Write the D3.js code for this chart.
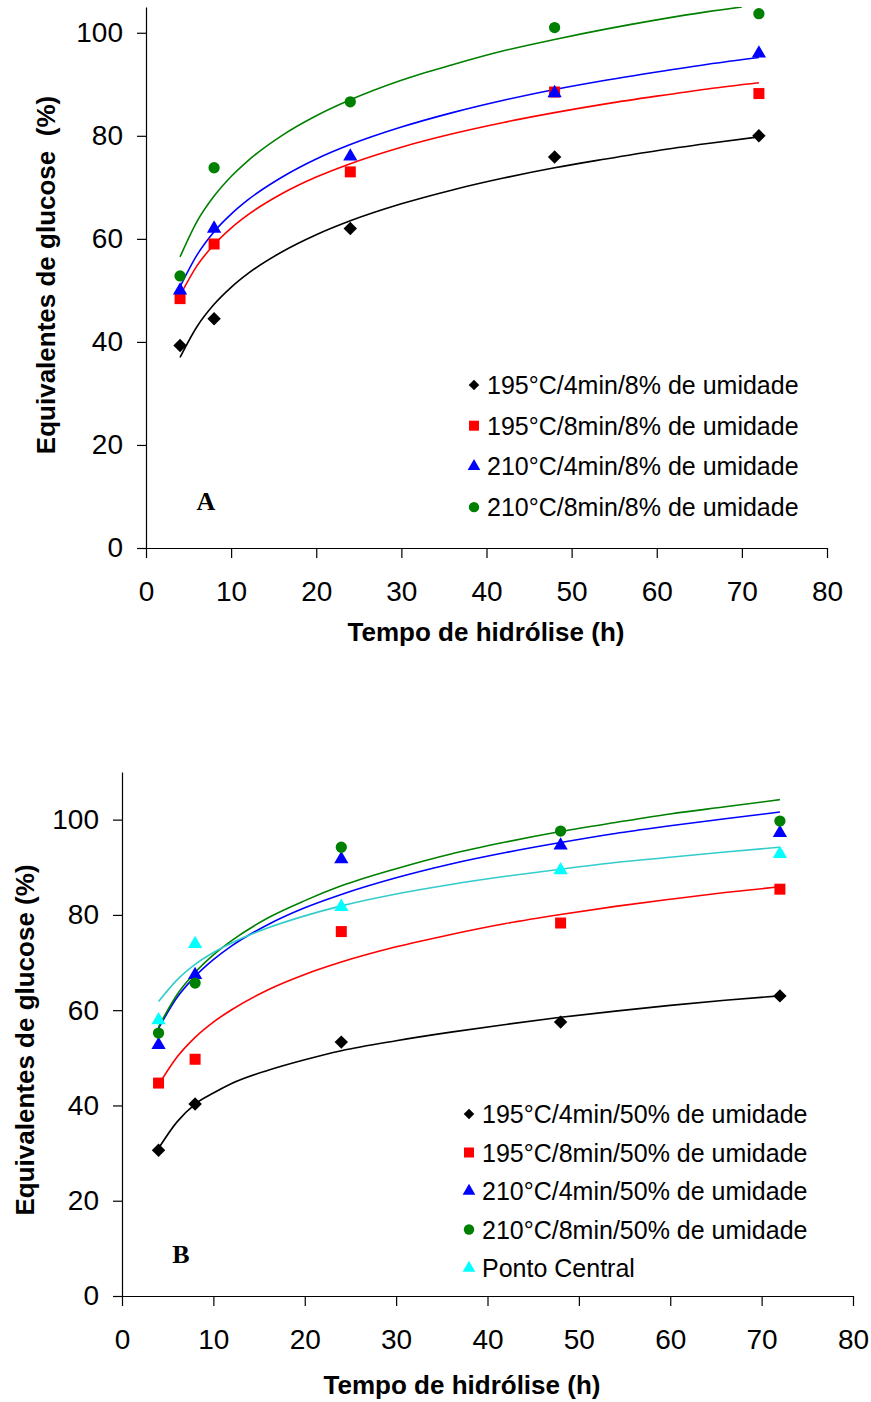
<!DOCTYPE html>
<html>
<head>
<meta charset="utf-8">
<script src="https://cdn.jsdelivr.net/npm/d3@7"></script>
<style>
  html, body { margin: 0; padding: 0; background: #fff; }
  svg { display: block; }
  text { font-family: "Liberation Sans", Arial, sans-serif; fill: #000; }
</style>
</head>
<body>
<svg id="chart" width="871" height="1402"></svg>
<script>
// ---- measured hydrolysis times (h) ----
const times = [4, 8, 24, 48, 72];
// ---- sampled points along the fitted curves (h) ----
const fitTimes = [4, 6, 8, 10, 12, 16, 20, 24, 30, 36, 42, 48, 54, 60, 66, 72];

// Panel A: 8% moisture
const labelsA = [
  "195°C/4min/8% de umidade",
  "195°C/8min/8% de umidade",
  "210°C/4min/8% de umidade",
  "210°C/8min/8% de umidade"
];
const a195_4 = [39.3, 44.5, 62.0, 75.9, 80.0];
const a195_8 = [48.4, 59.0, 73.0, 88.5, 88.2];
const a210_4 = [50.0, 62.0, 76.0, 88.3, 96.0];
const a210_8 = [52.8, 73.8, 86.6, 101.0, 103.7];
const fitA195_4 = [37.0, 43.0, 47.3, 50.6, 53.3, 57.5, 60.8, 63.5, 66.8, 69.5, 71.8, 73.8, 75.5, 77.1, 78.5, 79.8];
const fitA195_8 = [49.0, 54.8, 58.9, 62.1, 64.7, 68.8, 72.0, 74.6, 77.8, 80.4, 82.6, 84.5, 86.2, 87.7, 89.1, 90.3];
const fitA210_4 = [50.7, 56.9, 61.4, 64.8, 67.6, 72.0, 75.5, 78.3, 81.7, 84.5, 86.9, 89.0, 90.8, 92.4, 93.9, 95.2];
const fitA210_8 = [56.5, 63.4, 68.3, 72.1, 75.2, 80.1, 83.9, 87.0, 90.8, 93.8, 96.5, 98.7, 100.7, 102.5, 104.1, 105.0];
const fitA210_8Times = [4, 6, 8, 10, 12, 16, 20, 24, 30, 36, 42, 48, 54, 60, 66, 70];

// Panel B: 50% moisture
const labelsB = [
  "195°C/4min/50% de umidade",
  "195°C/8min/50% de umidade",
  "210°C/4min/50% de umidade",
  "210°C/8min/50% de umidade",
  "Ponto Central"
];
const b195_4 = [30.6, 40.3, 53.3, 57.5, 63.0];
const b195_8 = [44.7, 49.7, 76.5, 78.3, 85.4];
const b210_4 = [52.7, 67.4, 91.7, 94.6, 97.2];
const b210_8 = [55.2, 65.7, 94.2, 97.6, 99.7];
const bCentral = [57.9, 73.9, 81.7, 89.4, 92.8];
const fitB195_4 = [31.0, 36.5, 40.3, 42.6, 44.6, 47.4, 49.6, 51.5, 53.6, 55.4, 57.0, 58.5, 59.8, 61.0, 62.1, 63.0];
const fitB195_8 = [44.3, 50.1, 54.3, 57.5, 60.1, 64.3, 67.5, 70.1, 73.3, 75.9, 78.2, 80.1, 81.8, 83.3, 84.7, 85.9];
const fitB210_4 = [56.2, 62.6, 67.1, 70.6, 73.5, 78.0, 81.5, 84.3, 87.8, 90.7, 93.1, 95.2, 97.1, 98.7, 100.2, 101.6];
const fitB210_8 = [56.5, 63.2, 67.9, 71.6, 74.6, 79.4, 83.0, 86.1, 89.7, 92.8, 95.3, 97.5, 99.4, 101.2, 102.7, 104.2];
const fitBCentral = [61.8, 66.3, 69.6, 72.1, 74.1, 77.3, 79.8, 81.9, 84.4, 86.4, 88.1, 89.6, 91.0, 92.1, 93.2, 94.2];

const xTicks = [0, 10, 20, 30, 40, 50, 60, 70, 80];
const yTicks = [0, 20, 40, 60, 80, 100];

const svg = d3.select("#chart");

// marker shapes (size = area in px²)
const markers = {
  diamond: { type: d3.symbolSquare, size: 90, rotate: 45 },
  square: { type: d3.symbolSquare, size: 121, rotate: 0 },
  triangle: { type: d3.symbolTriangle, size: 88, rotate: 0 },
  circle: { type: d3.symbolCircle, size: 100, rotate: 0 }
};
const legendMarkers = {
  diamond: { type: d3.symbolSquare, size: 56, rotate: 45 },
  square: { type: d3.symbolSquare, size: 100, rotate: 0 },
  triangle: { type: d3.symbolTriangle, size: 70, rotate: 0 },
  circle: { type: d3.symbolCircle, size: 85, rotate: 0 }
};

function drawPanel(cfg) {
  const g = svg.append("g");
  const x = d3.scaleLinear().domain([0, 80]).range([cfg.left, cfg.right]);
  const y = d3.scaleLinear().domain([0, cfg.yMax]).range([cfg.bottom, cfg.top]);

  // axes
  const xAxis = d3.axisBottom(x).tickValues(xTicks).tickSizeInner(10).tickSizeOuter(0).tickPadding(23);
  const yAxis = d3.axisLeft(y).tickValues(yTicks).tickSizeInner(9).tickSizeOuter(0).tickPadding(14);

  const gx = g.append("g").attr("transform", `translate(0,${cfg.bottom})`).call(xAxis);
  const gy = g.append("g").attr("transform", `translate(${cfg.left},0)`).call(yAxis);
  [gx, gy].forEach(a => {
    a.selectAll("path, line").attr("stroke", "#000").attr("stroke-width", 1.2);
    a.selectAll("text").attr("font-size", 28).attr("fill", "#000")
      .style("font-family", '"Liberation Sans", Arial, sans-serif');
  });

  // axis titles
  g.append("text")
    .attr("x", cfg.xTitleX).attr("y", cfg.xTitleY)
    .attr("text-anchor", "middle").attr("font-weight", "bold").attr("font-size", 26)
    .text("Tempo de hidrólise (h)");
  g.append("text")
    .attr("transform", `translate(${cfg.yTitleX},${cfg.yTitleY}) rotate(-90)`)
    .attr("text-anchor", "middle").attr("font-weight", "bold").attr("font-size", 26)
    .style("white-space", "pre")
    .text(cfg.yTitle);

  // panel letter
  g.append("text")
    .attr("x", cfg.letterX).attr("y", cfg.letterY)
    .attr("text-anchor", "middle").attr("font-weight", "bold").attr("font-size", 26)
    .style("font-family", '"Liberation Serif", "Times New Roman", serif')
    .text(cfg.letter);

  // fitted curves
  const clipId = "clip" + cfg.letter;
  g.append("clipPath").attr("id", clipId).append("rect")
    .attr("x", cfg.left).attr("y", cfg.top).attr("width", cfg.right - cfg.left).attr("height", cfg.bottom - cfg.top);
  const line = d3.line().x(d => x(d[0])).y(d => y(d[1])).curve(d3.curveMonotoneX);
  cfg.series.forEach(s => {
    const pts = s.fitX.map((t, i) => [t, s.fit[i]]);
    g.append("path").datum(pts)
      .attr("clip-path", `url(#${clipId})`)
      .attr("fill", "none").attr("stroke", s.lineColor).attr("stroke-width", 1.6)
      .attr("d", line);
  });

  // measured points
  cfg.series.forEach(s => {
    const m = markers[s.shape];
    g.append("g").selectAll("path").data(times.map((t, i) => [t, s.values[i]])).join("path")
      .attr("d", d3.symbol().type(m.type).size(m.size))
      .attr("transform", d => `translate(${x(d[0])},${y(d[1])}) rotate(${m.rotate})`)
      .attr("fill", s.color);
  });

  // legend
  const lg = g.append("g");
  cfg.series.forEach((s, i) => {
    const cy = cfg.legendY + i * cfg.legendStep;
    const m = legendMarkers[s.shape];
    lg.append("path")
      .attr("d", d3.symbol().type(m.type).size(m.size))
      .attr("transform", `translate(${cfg.legendX},${cy}) rotate(${m.rotate})`)
      .attr("fill", s.color);
    lg.append("text")
      .attr("x", cfg.legendX + 13).attr("y", cy + 9)
      .attr("font-size", 25)
      .text(s.label);
  });
}

drawPanel({
  letter: "A",
  left: 146, right: 827, top: 7, bottom: 548, yMax: 105,
  xTitleX: 486, xTitleY: 641,
  yTitleX: 55, yTitleY: 275, yTitle: "Equivalentes de glucose  (%)",
  letterX: 206, letterY: 510,
  legendX: 474, legendY: 385, legendStep: 40.7,
  series: [
    { label: labelsA[0], shape: "diamond", color: "#000000", lineColor: "#000000", values: a195_4, fit: fitA195_4, fitX: fitTimes },
    { label: labelsA[1], shape: "square", color: "#ff0000", lineColor: "#ff0000", values: a195_8, fit: fitA195_8, fitX: fitTimes },
    { label: labelsA[2], shape: "triangle", color: "#0000ff", lineColor: "#0000ff", values: a210_4, fit: fitA210_4, fitX: fitTimes },
    { label: labelsA[3], shape: "circle", color: "#008000", lineColor: "#008000", values: a210_8, fit: fitA210_8, fitX: fitA210_8Times }
  ]
});

drawPanel({
  letter: "B",
  left: 122, right: 853, top: 772, bottom: 1296, yMax: 110,
  xTitleX: 462, xTitleY: 1394,
  yTitleX: 34, yTitleY: 1040, yTitle: "Equivalentes de glucose (%)",
  letterX: 181, letterY: 1263,
  legendX: 469, legendY: 1114, legendStep: 38.5,
  series: [
    { label: labelsB[0], shape: "diamond", color: "#000000", lineColor: "#000000", values: b195_4, fit: fitB195_4, fitX: fitTimes },
    { label: labelsB[1], shape: "square", color: "#ff0000", lineColor: "#ff0000", values: b195_8, fit: fitB195_8, fitX: fitTimes },
    { label: labelsB[2], shape: "triangle", color: "#0000ff", lineColor: "#0000ff", values: b210_4, fit: fitB210_4, fitX: fitTimes },
    { label: labelsB[3], shape: "circle", color: "#008000", lineColor: "#008000", values: b210_8, fit: fitB210_8, fitX: fitTimes },
    { label: labelsB[4], shape: "triangle", color: "#00ffff", lineColor: "#33cccc", values: bCentral, fit: fitBCentral, fitX: fitTimes }
  ]
});
</script>
</body>
</html>
